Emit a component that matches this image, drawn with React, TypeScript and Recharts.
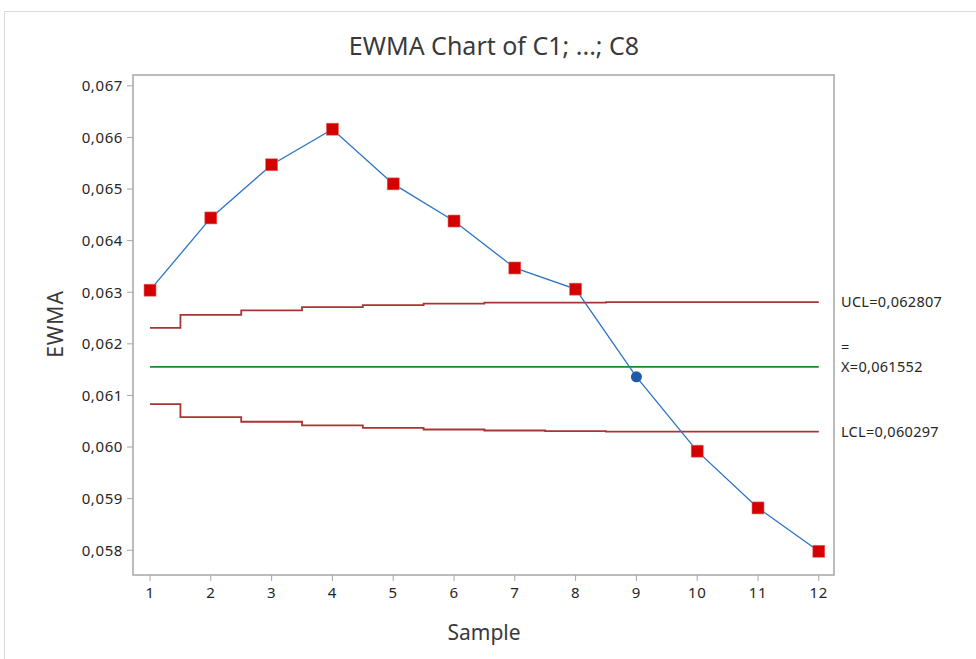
import React from "react";
import {
  ComposedChart,
  Line,
  XAxis,
  YAxis,
  ReferenceLine,
  ReferenceArea,
} from "recharts";

const samples = [1, 2, 3, 4, 5, 6, 7, 8, 9, 10, 11, 12];
const ewma = [
  0.06304, 0.06444, 0.06547, 0.06616, 0.0651, 0.06438, 0.06347, 0.06306,
  0.06136, 0.05992, 0.05882, 0.05798,
];
const ucl = [
  0.06231, 0.06256, 0.06265, 0.06271, 0.06275, 0.06278, 0.0628, 0.0628,
  0.062807, 0.062807, 0.062807, 0.062807,
];
const lcl = [
  0.06083, 0.06058, 0.06049, 0.06042, 0.06037, 0.06034, 0.06032, 0.06031,
  0.060297, 0.060297, 0.060297, 0.060297,
];
const centerValue = 0.061552;
const yTicks = [0.058, 0.059, 0.06, 0.061, 0.062, 0.063, 0.064, 0.065, 0.066, 0.067];
const uclLabel = "UCL=0,062807";
const centerLabel = "X=0,061552";
const lclLabel = "LCL=0,060297";

const data = samples.map((s, i) => ({
  sample: s,
  ewma: ewma[i],
  ucl: ucl[i],
  lcl: lcl[i],
  center: centerValue,
}));

const FONT = "'Noto Sans', 'Open Sans', sans-serif";
const TEXT = "#262626";
const FRAME = "#a6a6a6";

const renderDot = (props: any) => {
  const { cx, cy, index, payload } = props;
  if (cx == null || cy == null) return null;
  const out = payload.ewma > payload.ucl || payload.ewma < payload.lcl;
  if (out) {
    return (
      <rect
        key={`d${index}`}
        x={cx - 6}
        y={cy - 6}
        width={12}
        height={12}
        fill="#d40000"
        stroke="#e46a6a"
        strokeWidth={0.6}
      />
    );
  }
  return <circle key={`d${index}`} cx={cx} cy={cy} r={5.5} fill="#1f5aa8" />;
};

const labelStyle = { fontSize: 14.5, fontFamily: FONT, letterSpacing: 0.3 };

const sideLabel = (text: string) => (props: any) => {
  const { viewBox } = props;
  const x = viewBox.x + viewBox.width + 7;
  const y = viewBox.y;
  return (
    <text x={x} y={y} dy={5} fill={TEXT} style={labelStyle}>
      {text}
    </text>
  );
};

const centerSideLabel = (props: any) => {
  const { viewBox } = props;
  const x = viewBox.x + viewBox.width + 7;
  const y = viewBox.y;
  return (
    <g>
      <text x={x} y={y - 20} dy={5} fill={TEXT} style={labelStyle}>
        =
      </text>
      <text x={x} y={y} dy={5} fill={TEXT} style={labelStyle}>
        {centerLabel}
      </text>
    </g>
  );
};

const fmt = (v: number) => v.toFixed(3).replace(".", ",");

const tickStyle = { fill: TEXT, fontSize: 15, fontFamily: FONT, letterSpacing: 0.6 };

export default function App() {
  return (
    <div
      style={{
        position: "absolute",
        left: 0,
        top: 0,
        width: 976,
        height: 659,
        background: "#fff",
        fontFamily: FONT,
      }}
    >
      <div
        style={{
          position: "absolute",
          left: 4,
          top: 11,
          right: 0,
          bottom: 0,
          borderTop: "1px solid #dadada",
          borderLeft: "1px solid #dadada",
        }}
      />
      <div
        style={{
          position: "absolute",
          left: 0,
          width: 988,
          top: 28,
          textAlign: "center",
          fontSize: 25,
          lineHeight: "34px",
          color: "#3a3a3a",
        }}
      >
        EWMA Chart of C1; ...; C8
      </div>
      <div
        style={{
          position: "absolute",
          left: 384,
          width: 200,
          top: 617,
          textAlign: "center",
          fontSize: 21,
          lineHeight: "30px",
          color: "#3a3a3a",
        }}
      >
        Sample
      </div>
      <div
        style={{
          position: "absolute",
          left: 5,
          top: 309,
          width: 100,
          height: 30,
          lineHeight: "30px",
          textAlign: "center",
          fontSize: 21,
          letterSpacing: 1,
          color: "#3a3a3a",
          transform: "rotate(-90deg)",
          transformOrigin: "50% 50%",
        }}
      >
        EWMA
      </div>
      <div style={{ position: "absolute", left: 0, top: 0 }}>
        <ComposedChart
          width={976}
          height={659}
          data={data}
          margin={{ top: 75, right: 142, left: 73, bottom: 54 }}
        >
          <XAxis
            dataKey="sample"
            type="number"
            domain={[0.72, 12.25]}
            ticks={samples}
            allowDataOverflow
            height={30}
            axisLine={false}
            tickLine={{ stroke: FRAME }}
            tickSize={6}
            tickMargin={6}
            tick={tickStyle}
          />
          <YAxis
            type="number"
            domain={[0.05752, 0.06721]}
            ticks={yTicks}
            allowDataOverflow
            width={60}
            axisLine={false}
            tickLine={{ stroke: FRAME }}
            tickSize={6}
            tickMargin={4}
            tickFormatter={fmt}
            tick={tickStyle}
          />
          <ReferenceArea
            x1={0.72}
            x2={12.25}
            y1={0.05752}
            y2={0.06721}
            fill="none"
            stroke={FRAME}
            strokeWidth={1.5}
            ifOverflow="visible"
          />
          <ReferenceLine y={ucl[ucl.length - 1]} stroke="none" label={sideLabel(uclLabel)} />
          <ReferenceLine y={centerValue} stroke="none" label={centerSideLabel} />
          <ReferenceLine y={lcl[lcl.length - 1]} stroke="none" label={sideLabel(lclLabel)} />
          <Line
            dataKey="ucl"
            type="step"
            stroke="#a93434"
            strokeWidth={1.8}
            dot={false}
            activeDot={false}
            isAnimationActive={false}
          />
          <Line
            dataKey="lcl"
            type="step"
            stroke="#a93434"
            strokeWidth={1.8}
            dot={false}
            activeDot={false}
            isAnimationActive={false}
          />
          <Line
            dataKey="center"
            type="linear"
            stroke="#1e8a2c"
            strokeWidth={1.8}
            dot={false}
            activeDot={false}
            isAnimationActive={false}
          />
          <Line
            dataKey="ewma"
            type="linear"
            stroke="#2b73c4"
            strokeWidth={1.3}
            dot={renderDot}
            activeDot={false}
            isAnimationActive={false}
          />
        </ComposedChart>
      </div>
    </div>
  );
}
